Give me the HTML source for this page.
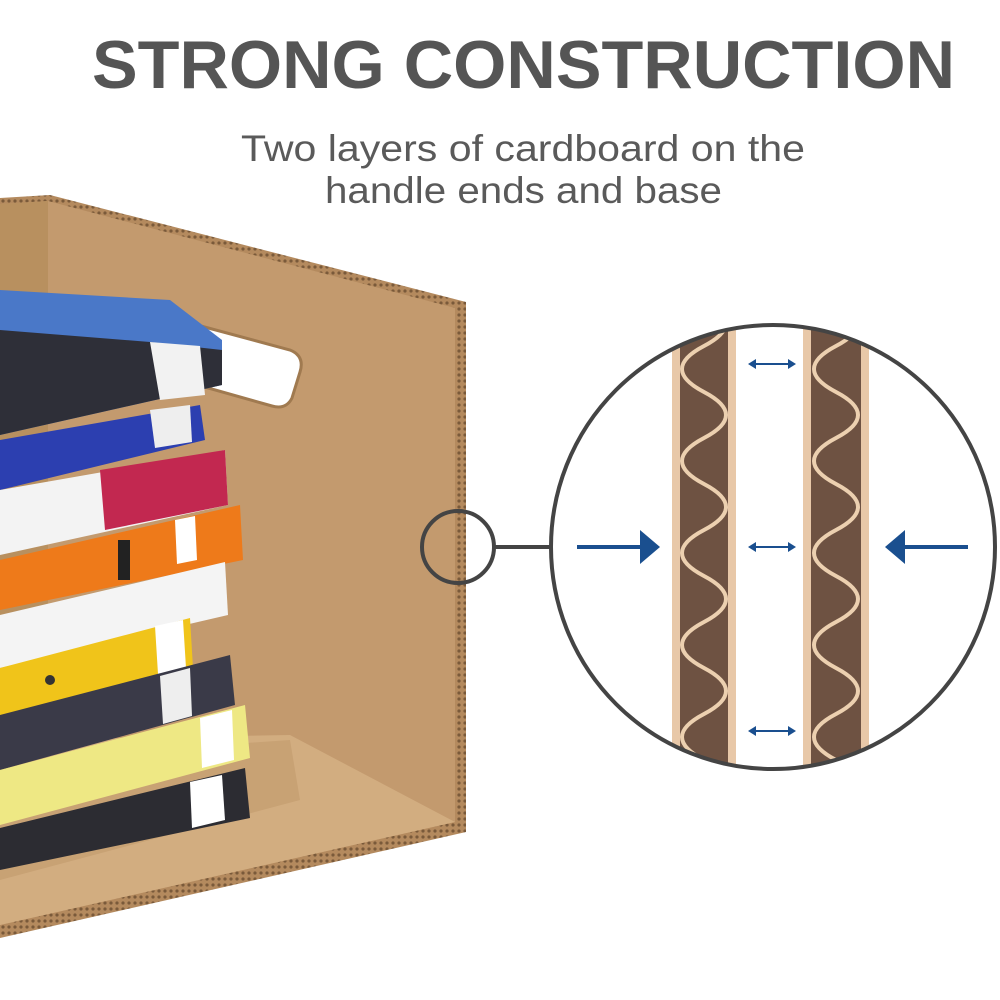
<!DOCTYPE html>
<html><head><meta charset="utf-8"><style>
html,body{margin:0;padding:0;background:#fff;}
svg{display:block}
</style></head><body>
<svg width="1000" height="1000" viewBox="0 0 1000 1000" xmlns="http://www.w3.org/2000/svg">
<defs>
<clipPath id="cc"><circle cx="773" cy="547" r="222"/></clipPath>
<pattern id="corr" width="6" height="6" patternUnits="userSpaceOnUse"><rect width="6" height="6" fill="#b48a5e"/><circle cx="3" cy="3" r="1.6" fill="#7a5a3a"/></pattern>
</defs>
<text x="92" y="88" textLength="863" lengthAdjust="spacingAndGlyphs" font-family="Liberation Sans, sans-serif" font-weight="bold" font-size="68" fill="#555">STRONG CONSTRUCTION</text>
<text x="241" y="161" textLength="564" lengthAdjust="spacingAndGlyphs" font-family="Liberation Sans, sans-serif" font-size="37" fill="#5a5a5a">Two layers of cardboard on the</text>
<text x="325" y="203" textLength="397" lengthAdjust="spacingAndGlyphs" font-family="Liberation Sans, sans-serif" font-size="37" fill="#5a5a5a">handle ends and base</text>

<!-- box -->
<polygon points="0,198 50,195 466,302 466,832 0,938" fill="url(#corr)"/>
<polygon points="0,204 48,201 455,308 455,822 0,925" fill="#c39a6e"/>
<polygon points="0,204 48,201 48,740 0,745" fill="#b8905f"/>
<polygon points="0,740 290,735 455,822 0,925" fill="#d2ad80"/>
<polygon points="0,760 290,740 300,800 0,880" fill="#c8a274"/>
<path d="M186,322 L290,350 Q305,356 300,372 L292,398 Q286,410 272,406 L180,380 Q166,376 168,362 L174,334 Q178,320 186,322 Z" fill="#fff" stroke="#a07a50" stroke-width="3"/>

<!-- books -->
<g>
<polygon points="0,290 170,300 222,340 222,385 0,435" fill="#4a78c8"/>
<polygon points="0,330 150,342 222,350 222,385 0,435" fill="#2e2f38"/>
<polygon points="150,342 200,346 205,395 160,400" fill="#f2f2f2"/>
<polygon points="0,440 200,405 205,440 0,490" fill="#2c3fb0"/>
<polygon points="150,410 190,405 192,442 155,448" fill="#eee"/>
<polygon points="0,490 200,455 225,450 228,505 0,555" fill="#f3f3f3"/>
<polygon points="100,470 225,450 228,505 105,530" fill="#c22850"/>
<polygon points="0,560 240,505 243,560 0,610" fill="#ee7a1a"/>
<rect x="118" y="540" width="12" height="40" fill="#222"/>
<polygon points="175,520 195,516 197,560 177,564" fill="#fff"/>
<polygon points="0,615 225,562 228,615 0,668" fill="#f4f4f4"/>
<polygon points="0,668 190,618 193,668 0,718" fill="#f0c41a"/>
<polygon points="155,626 183,620 186,668 158,674" fill="#fff"/>
<circle cx="50" cy="680" r="5" fill="#333"/>
<polygon points="0,715 230,655 235,705 0,770" fill="#3a3a48"/>
<polygon points="160,676 190,668 192,716 163,724" fill="#eee"/>
<polygon points="0,770 245,705 250,758 0,825" fill="#eee884"/>
<polygon points="200,718 232,710 234,760 202,768" fill="#fff"/>
<polygon points="0,828 245,768 250,818 0,870" fill="#2c2c32"/>
<polygon points="190,782 222,775 225,820 192,828" fill="#fff"/>
</g>

<!-- zoom circles -->
<circle cx="458" cy="547" r="36" fill="none" stroke="#444" stroke-width="4"/>
<line x1="494" y1="547" x2="552" y2="547" stroke="#444" stroke-width="4"/>
<circle cx="773" cy="547" r="222" fill="#fff"/>
<g clip-path="url(#cc)">
<rect x="672" y="300" width="64" height="500" fill="#e8c8a8"/>
<rect x="680" y="300" width="48" height="500" fill="#6e5242"/>
<rect x="803" y="300" width="66" height="500" fill="#e8c8a8"/>
<rect x="811" y="300" width="50" height="500" fill="#6e5242"/>
<path id="w" d="M704,300 q44,23 0,46 q-44,23 0,46 q44,23 0,46 q-44,23 0,46 q44,23 0,46 q-44,23 0,46 q44,23 0,46 q-44,23 0,46 q44,23 0,46 q-44,23 0,46 q44,23 0,46" fill="none" stroke="#ecd0b0" stroke-width="4"/>
<use href="#w" x="132"/>
</g>
<circle cx="773" cy="547" r="222" fill="none" stroke="#444" stroke-width="4"/>

<!-- arrows -->
<g fill="#1a4f8f" stroke="#1a4f8f">
<line x1="577" y1="547" x2="645" y2="547" stroke-width="4"/>
<polygon points="640,530 660,547 640,564" stroke="none"/>
<line x1="968" y1="547" x2="900" y2="547" stroke-width="4"/>
<polygon points="905,530 885,547 905,564" stroke="none"/>
<g stroke-width="2">
<line x1="752" y1="364" x2="792" y2="364"/><polygon points="748,364 756,359 756,369" stroke="none"/><polygon points="796,364 788,359 788,369" stroke="none"/>
<line x1="752" y1="547" x2="792" y2="547"/><polygon points="748,547 756,542 756,552" stroke="none"/><polygon points="796,547 788,542 788,552" stroke="none"/>
<line x1="752" y1="731" x2="792" y2="731"/><polygon points="748,731 756,726 756,736" stroke="none"/><polygon points="796,731 788,726 788,736" stroke="none"/>
</g>
</g>
</svg>
</body></html>
